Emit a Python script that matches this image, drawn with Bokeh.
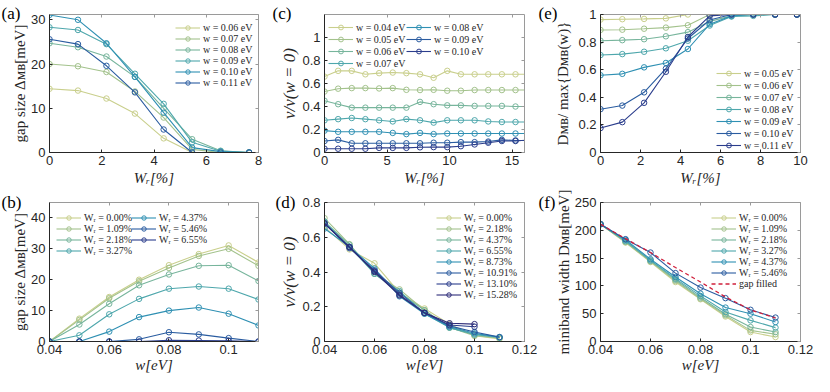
import numpy as np
from bokeh.plotting import figure
from bokeh.layouts import row, column
from bokeh.models import (Legend, LegendItem, LinearAxis, FixedTicker, Title,
                          PrintfTickFormatter, CustomJSTickFormatter, Range1d)
from bokeh.embed import file_html
from bokeh.resources import INLINE

NaN = float("nan")

# ---------------- data ----------------
# (a)/(b) gap size Delta_MB [meV]; rows: w, columns: W_R
WR_gap = [0.0, 1.09, 2.18, 3.27, 4.37, 5.46, 6.55, 7.64]
w_gap = [0.04, 0.05, 0.06, 0.07, 0.08, 0.09, 0.10, 0.11]
gap_w004 = [0.0, 0.0, 0.0, 0.0, 0.0, 0.0, 0.0, 0.0]
gap_w005 = [7.4, 7.0, 5.5, 2.0, 0.0, 0.0, 0.0, 0.0]
gap_w006 = [14.4, 14.0, 12.2, 8.8, 3.2, 0.0, 0.0, 0.0]
gap_w007 = [20.0, 19.5, 18.2, 13.8, 7.9, 0.7, 0.0, 0.0]
gap_w008 = [24.7, 23.8, 21.7, 17.1, 10.0, 3.0, 0.4, 0.0]
gap_w009 = [28.3, 27.7, 24.5, 17.8, 11.0, 2.3, 0.3, 0.0]
gap_w010 = [31.1, 30.0, 24.7, 17.1, 9.0, 1.1, 0.2, 0.0]
gap_w011 = [25.6, 24.5, 19.6, 13.6, 5.2, 0.0, 0.0, 0.0]
gap_rows = [gap_w004, gap_w005, gap_w006, gap_w007, gap_w008, gap_w009, gap_w010, gap_w011]
a_w_labels = ["w = 0.06 eV", "w = 0.07 eV", "w = 0.08 eV", "w = 0.09 eV", "w = 0.10 eV", "w = 0.11 eV"]
b_WR_labels = ["Wᵣ = 0.00%", "Wᵣ = 1.09%", "Wᵣ = 2.18%", "Wᵣ = 3.27%", "Wᵣ = 4.37%", "Wᵣ = 5.46%", "Wᵣ = 6.55%"]

# (c)/(d) v / v(w=0)
WR_vel = [0.0, 1.09, 2.18, 3.27, 4.37, 5.46, 6.55, 7.64, 8.73, 9.82, 10.91, 12.01, 13.10, 14.19, 15.28, 16.37]
w_vel = [0.04, 0.05, 0.06, 0.07, 0.08, 0.09, 0.10]
vel_w004 = [0.66, 0.71, 0.71, 0.68, 0.69, 0.695, 0.69, 0.68, 0.65, 0.71, 0.68, 0.68, 0.68, 0.68, 0.68, 0.68]
vel_w005 = [0.53, 0.555, 0.56, 0.56, 0.557, 0.56, 0.545, 0.543, 0.545, 0.537, 0.537, 0.543, 0.543, 0.543, 0.543, 0.543]
vel_w006 = [0.45, 0.42, 0.39, 0.39, 0.39, 0.39, 0.39, 0.44, 0.42, 0.41, 0.41, 0.405, 0.405, 0.405, 0.40, 0.40]
vel_w007 = [0.28, 0.29, 0.30, 0.29, 0.28, 0.27, 0.29, 0.28, 0.26, 0.28, 0.28, 0.28, 0.27, 0.265, 0.265, 0.265]
vel_w008 = [0.19, 0.18, 0.18, 0.18, 0.18, 0.17, 0.16, 0.17, 0.16, 0.165, 0.165, 0.165, 0.165, 0.165, 0.165, 0.165]
vel_w009 = [0.10, 0.11, 0.08, 0.08, 0.08, 0.08, 0.08, 0.08, 0.085, 0.085, 0.09, 0.09, 0.095, 0.11, 0.105, 0.105]
vel_w010 = [0.033, 0.033, 0.033, 0.033, 0.04, 0.04, 0.04, 0.045, 0.047, 0.047, 0.055, 0.07, 0.085, 0.10, 0.10, 0.11]
vel_rows = [vel_w004, vel_w005, vel_w006, vel_w007, vel_w008, vel_w009, vel_w010]
c_w_labels = ["w = 0.04 eV", "w = 0.05 eV", "w = 0.06 eV", "w = 0.07 eV", "w = 0.08 eV", "w = 0.09 eV", "w = 0.10 eV"]
w_vel_d = [0.04, 0.05, 0.06, 0.07, 0.08, 0.09, 0.10, 0.11]
d_WR_index = [0, 2, 4, 6, 8, 10, 12, 14]
vel_w011_d = [0.015, 0.02, 0.02, 0.025, 0.025, 0.025, NaN, NaN]
d_WR_labels = ["Wᵣ = 0.00%", "Wᵣ = 2.18%", "Wᵣ = 4.37%", "Wᵣ = 6.55%", "Wᵣ = 8.73%", "Wᵣ = 10.91%", "Wᵣ = 13.10%", "Wᵣ = 15.28%"]

# (e) D_MB / max{D_MB(w)}
WR_e = [0.0, 1.09, 2.18, 3.27, 4.37, 5.46, 6.55, 7.64, 8.73, 9.82]
e_w005 = [0.963, 0.966, 0.968, 0.972, 1.0, 1.0, 1.0, 1.0, 1.0, 1.0]
e_w006 = [0.888, 0.89, 0.897, 0.905, 0.922, 1.0, 1.0, 1.0, 1.0, 1.0]
e_w007 = [0.81, 0.814, 0.821, 0.842, 0.872, 0.95, 0.99, 1.0, 1.0, 1.0]
e_w008 = [0.706, 0.713, 0.73, 0.755, 0.81, 0.92, 0.985, 0.99, 1.0, 1.0]
e_w009 = [0.56, 0.57, 0.617, 0.649, 0.75, 0.93, 0.99, 1.0, 1.0, 1.0]
e_w010 = [0.314, 0.34, 0.436, 0.608, 0.826, 0.96, 1.0, 1.0, 1.0, 1.0]
e_w011 = [0.177, 0.22, 0.36, 0.585, 0.837, 0.99, 1.0, 1.0, 1.0, 1.0]
e_rows = [e_w005, e_w006, e_w007, e_w008, e_w009, e_w010, e_w011]
e_w_labels = ["w = 0.05 eV", "w = 0.06 eV", "w = 0.07 eV", "w = 0.08 eV", "w = 0.09 eV", "w = 0.10 eV", "w = 0.11 eV"]

# (f) miniband width D_MB [meV]
w_f = [0.04, 0.05, 0.06, 0.07, 0.08, 0.09, 0.10, 0.11]
f_WR000 = [211, 178, 143, 107, 76, 45, 17, 8]
f_WR109 = [211, 179, 144, 109, 77, 47, 20, 13]
f_WR218 = [211, 180, 145, 111, 79, 49, 26, 17]
f_WR327 = [211, 181, 146, 113, 82, 53, 38, 25]
f_WR437 = [211, 183, 148, 116, 86, 61, 50, 35]
f_WR546 = [211, 184, 160, 123, 97, 78, 57, 43]
f_rows = [f_WR000, f_WR109, f_WR218, f_WR327, f_WR437, f_WR546]
f_gap_filled = [211, 185, 160, 133, 107, 80, 57, 42]
f_WR_labels = ["Wᵣ = 0.00%", "Wᵣ = 1.09%", "Wᵣ = 2.18%", "Wᵣ = 3.27%", "Wᵣ = 4.37%", "Wᵣ = 5.46%"]

# ---------------- style ----------------
PALETTE = ["#c9cf8c", "#a3c28c", "#77b59c", "#4ea7ac", "#2f90b3", "#2a5ca0", "#2b3d8c", "#2d2b78"]
AX = "#262626"
BOX = "#9a9a9a"
SERIF = "Liberation Serif"
SANS = "Liberation Sans"


def style_axis(ax):
    ax.axis_line_color = AX
    ax.major_tick_line_color = AX
    ax.major_tick_in = 3
    ax.major_tick_out = 0
    ax.minor_tick_line_color = None
    ax.major_label_text_font = SANS
    ax.major_label_text_font_size = "13px"
    ax.major_label_text_color = AX
    ax.formatter = PrintfTickFormatter(format="%g")
    ax.axis_label_text_font = SERIF
    ax.axis_label_text_font_size = "15px"
    ax.axis_label_text_color = AX


def mk(w, h, lb, rb, tb, bb, xr, yr, xt, yt, xlabel, ylabel, xstand, ystand,
       xital=True, yital=False, ysize="15px"):
    p = figure(width=w, height=h, x_range=Range1d(*xr), y_range=Range1d(*yr),
               output_backend="svg", toolbar_location=None, tools="",
               min_border_left=lb, min_border_right=rb, min_border_top=tb,
               min_border_bottom=bb)
    p.xgrid.visible = False
    p.ygrid.visible = False
    p.outline_line_color = None
    p.background_fill_color = "white"
    p.border_fill_color = "white"
    p.xaxis.ticker = FixedTicker(ticks=xt, minor_ticks=[])
    p.yaxis.ticker = FixedTicker(ticks=yt, minor_ticks=[])
    style_axis(p.xaxis[0])
    style_axis(p.yaxis[0])
    p.xaxis.major_label_standoff = 3
    p.yaxis.major_label_standoff = 4
    p.xaxis.axis_label = xlabel
    p.yaxis.axis_label = ylabel
    p.xaxis.axis_label_standoff = xstand
    p.yaxis.axis_label_standoff = ystand
    p.xaxis.axis_label_text_font_style = "italic" if xital else "normal"
    p.yaxis.axis_label_text_font_style = "italic" if yital else "normal"
    p.yaxis.axis_label_text_font_size = ysize
    for place, t in (("above", xt), ("right", yt)):
        ax = LinearAxis(ticker=FixedTicker(ticks=t, minor_ticks=[]),
                        formatter=CustomJSTickFormatter(code="return ''"),
                        major_label_text_font_size="1px", major_label_standoff=0,
                        axis_line_color=BOX, major_tick_line_color=BOX,
                        major_tick_in=3, major_tick_out=0, minor_tick_line_color=None)
        p.add_layout(ax, place)
    return p


def series(p, x, y, color):
    x = np.asarray(x, dtype=float)
    y = np.asarray(y, dtype=float)
    l = p.line(x, y, line_color=color, line_width=1.1)
    s = p.scatter(x, y, marker="circle", size=5.5, fill_color=None,
                  line_color=color, line_width=1)
    return [l, s]


def add_legend(p, items, vx, vy, pitch=11):
    lg = Legend(items=items, location=(vx, vy), orientation="vertical",
                label_text_font=SERIF, label_text_font_size="10px",
                label_text_color=AX, label_standoff=3, glyph_width=25,
                glyph_height=pitch, label_height=pitch, spacing=0, padding=3,
                margin=0, border_line_color=None, background_fill_alpha=0)
    p.add_layout(lg)


def panel_letter(p, text, offset, standoff):
    p.add_layout(Title(text=text, align="left", offset=offset, standoff=standoff,
                       vertical_align="bottom", text_font=SERIF, text_font_size="17px",
                       text_font_style="normal", text_color="black"), "above")


XL_TOP = "Wᵣ[%]"
XL_BOT = "w[eV]"

# ---------------- (a) ----------------
fa = mk(266, 189, 49, 8, 14, 37, (0, 8), (0, 31.2), [0, 2, 4, 6, 8], [0, 10, 20, 30],
        XL_TOP, "gap size Δᴍʙ[meV]", 2, 0)
items = []
for i, rowv in enumerate(gap_rows[2:]):
    items.append(LegendItem(label=a_w_labels[i], renderers=series(fa, WR_gap, rowv, PALETTE[i])))
add_legend(fa, items, 126, 64)
panel_letter(fa, "(a)", -48, -16)

# ---------------- (c) ----------------
fc = mk(271, 189, 58, 13, 14, 37, (0, 16), (0, 1.2), [0, 5, 10, 15], [0, 0.2, 0.4, 0.6, 0.8, 1],
        XL_TOP, "v/v(w = 0)", 2, 0, yital=True, ysize="17px")
items = []
for i, rowv in enumerate(vel_rows):
    items.append(LegendItem(label=c_w_labels[i], renderers=series(fc, WR_vel, rowv, PALETTE[i])))
add_legend(fc, items[:4], 4, 83, pitch=12)
add_legend(fc, items[4:], 82, 95, pitch=12)
panel_letter(fc, "(c)", -52, -16)

# ---------------- (e) ----------------
fe = mk(277, 189, 63, 14, 14, 37, (0, 10), (0, 1), [0, 2, 4, 6, 8, 10], [0, 0.2, 0.4, 0.6, 0.8, 1],
        XL_TOP, "Dᴍʙ/ max{Dᴍʙ(w)}", 2, 4)
items = []
for i, rowv in enumerate(e_rows):
    items.append(LegendItem(label=e_w_labels[i], renderers=series(fe, WR_e, rowv, PALETTE[i])))
add_legend(fe, items, 116, 1, pitch=12)
panel_letter(fe, "(e)", -62, -16)

# ---------------- (b) ----------------
fb = mk(266, 187, 49, 8, 13, 35, (0.04, 0.11), (0, 45), [0.04, 0.06, 0.08, 0.1], [0, 10, 20, 30, 40],
        XL_BOT, "gap size Δᴍʙ[meV]", 0, 0)
items = []
for j in range(7):
    col = [r[j] for r in gap_rows]
    items.append(LegendItem(label=b_WR_labels[j], renderers=series(fb, w_gap, col, PALETTE[j])))
add_legend(fb, items[:4], 7, 85)
add_legend(fb, items[4:], 82, 96)
panel_letter(fb, "(b)", -48, -18)

# ---------------- (d) ----------------
fd = mk(271, 187, 58, 13, 13, 35, (0.04, 0.12), (0, 0.8), [0.04, 0.06, 0.08, 0.1, 0.12],
        [0, 0.2, 0.4, 0.6, 0.8], XL_BOT, "v/v(w = 0)", 0, 0, yital=True, ysize="17px")
items = []
for k, idx in enumerate(d_WR_index):
    col = [r[idx] for r in vel_rows] + [vel_w011_d[k]]
    items.append(LegendItem(label=d_WR_labels[k], renderers=series(fd, w_vel_d, col, PALETTE[k])))
add_legend(fd, items, 112, 41)
panel_letter(fd, "(d)", -49, -18)

# ---------------- (f) ----------------
ff = mk(277, 187, 63, 14, 13, 35, (0.04, 0.12), (0, 250), [0.04, 0.06, 0.08, 0.1, 0.12],
        [0, 50, 100, 150, 200, 250], XL_BOT, "miniband width Dᴍʙ[meV]", 0, 0)
items = []
for i, rowv in enumerate(f_rows):
    items.append(LegendItem(label=f_WR_labels[i], renderers=series(ff, w_f, rowv, PALETTE[i])))
gf = ff.line(np.asarray(w_f, float), np.asarray(f_gap_filled, float), line_color="#d0203c",
             line_width=1.3, line_dash="4 3")
items.append(LegendItem(label="gap filled", renderers=[gf]))
add_legend(ff, items, 111, 52)
panel_letter(ff, "(f)", -62, -18)

layout = column(row(fa, fc, fe), row(fb, fd, ff))
open("out.html", "w").write(file_html(layout, INLINE))
